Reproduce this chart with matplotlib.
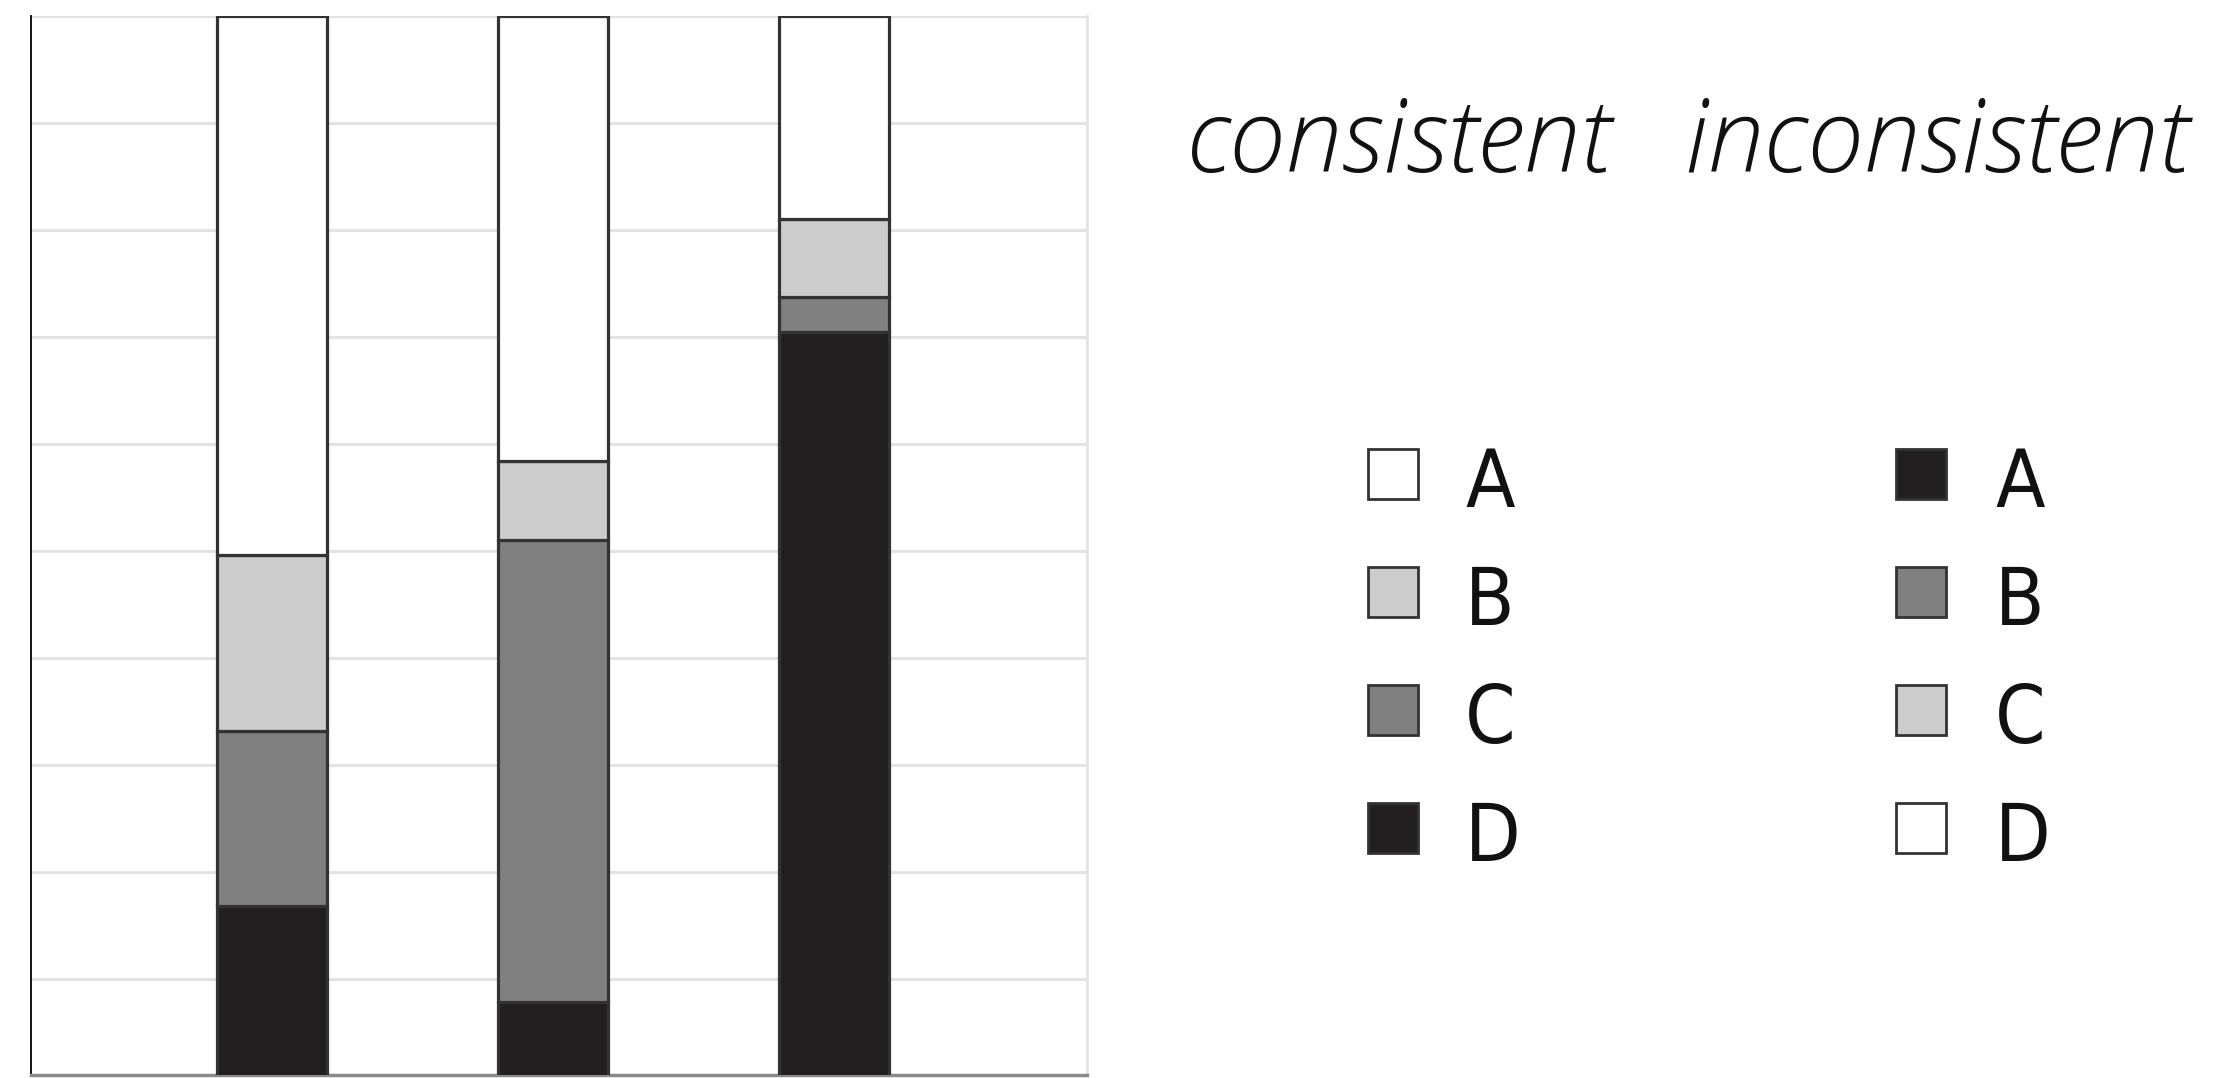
import matplotlib
matplotlib.use("Agg")
from matplotlib import pyplot as plt
import matplotlib.patches as patches

# stacked shares (%)
# bars 1-2 are "consistent", bar 3 is "inconsistent"
cons_x = [0, 1]
cons_D = [16.8, 7.8]
cons_C = [16.4, 43.2]
cons_B = [16.4, 7.4]
cons_A = [50.4, 41.6]

incons_x = [2]
incons_A = [70.5]
incons_B = [3.2]
incons_C = [7.3]
incons_D = [19.0]

legend_letters = ['A', 'B', 'C', 'D']
group_titles = ['consistent', 'inconsistent']

WHITE = '#ffffff'
LIGHT = '#cccccc'
MID = '#808080'
DARK = '#231f20'
EDGE = '#333333'

W, H = 2219, 1078


def fx(px):
    return px / W


def fy(py):
    # py measured from the top of the picture
    return 1 - py / H


def main():
    fig = plt.figure(figsize=(W / 100, H / 100), dpi=100)
    ax = fig.add_axes([fx(31), fy(1075), fx(1087 - 31), (1075 - 16) / H])

    bw = 0.39
    kw = dict(width=bw, edgecolor=EDGE, linewidth=2.3, zorder=3)

    # consistent bars: D at the bottom, A on top
    bottom = [0, 0]
    for vals, col in [(cons_D, DARK), (cons_C, MID), (cons_B, LIGHT), (cons_A, WHITE)]:
        ax.bar(cons_x, vals, bottom=bottom, color=col, **kw)
        bottom = [b + v for b, v in zip(bottom, vals)]

    # inconsistent bar: A at the bottom, D on top
    bottom = [0]
    for vals, col in [(incons_A, DARK), (incons_B, MID), (incons_C, LIGHT), (incons_D, WHITE)]:
        ax.bar(incons_x, vals, bottom=bottom, color=col, **kw)
        bottom = [b + v for b, v in zip(bottom, vals)]

    ax.set_xlim(-0.858, 2.90)
    ax.set_ylim(1.0, 100)
    ax.set_yticks(range(10, 101, 10))
    ax.set_xticks([])
    ax.tick_params(left=False, labelleft=False)
    ax.yaxis.grid(True, color='#e3e3e3', linewidth=2.2, zorder=0)
    ax.set_axisbelow(True)

    ax.spines['top'].set_visible(False)
    ax.spines['left'].set_color('#111111')
    ax.spines['left'].set_linewidth(1.4)
    ax.spines['bottom'].set_color('#8a8a8a')
    ax.spines['bottom'].set_linewidth(2.5)
    ax.spines['right'].set_color('#e3e3e3')
    ax.spines['right'].set_linewidth(2.0)

    # group titles
    title_font = dict(family=['Open Sans', 'DejaVu Sans'], style='italic',
                      weight='light', fontsize=73, color='#111111')
    fig.text(fx(1187), fy(172), group_titles[0], ha='left', va='baseline', **title_font)
    fig.text(fx(1684), fy(172), group_titles[1], ha='left', va='baseline', **title_font)

    # hand made legend, two columns
    left_cols = [WHITE, LIGHT, MID, DARK]
    right_cols = [DARK, MID, LIGHT, WHITE]
    row_centers = [474, 592, 710, 828]
    sq = 50
    label_font = dict(family='DejaVu Sans', stretch='condensed',
                      fontsize=58, color='#111111')
    for sq_left, txt_left, cols in [(1368, 1465, left_cols), (1896, 1995, right_cols)]:
        for letter, col, yc in zip(legend_letters, cols, row_centers):
            rect = patches.Rectangle((fx(sq_left), fy(yc + sq / 2)), fx(sq), sq / H,
                                     transform=fig.transFigure, facecolor=col,
                                     edgecolor=EDGE, linewidth=2.0)
            fig.add_artist(rect)
            fig.text(fx(txt_left), fy(yc + 33), letter, ha='left', va='baseline', **label_font)

    fig.savefig('out.png', dpi=100)


if __name__ == "__main__":
    main()
